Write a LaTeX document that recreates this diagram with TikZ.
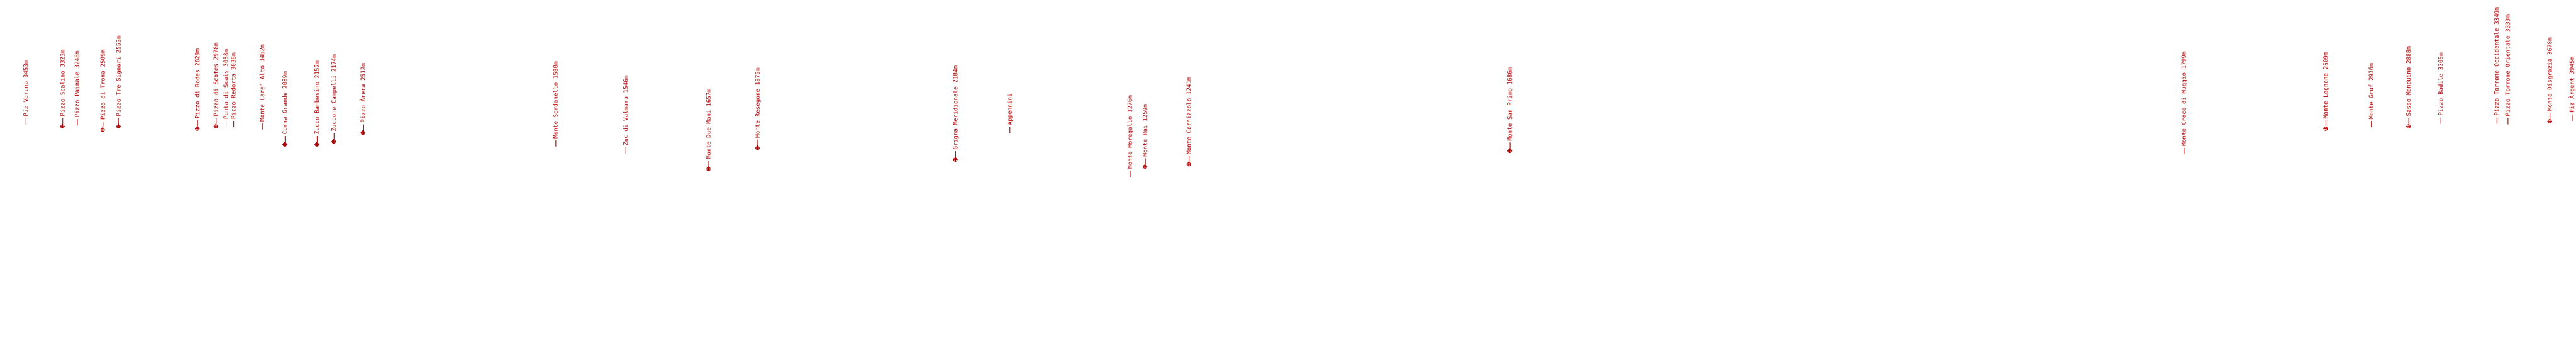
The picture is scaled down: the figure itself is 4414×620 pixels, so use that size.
\documentclass[tikz,border=0pt]{standalone}
\usepackage{fontspec}
\newfontfamily\peakfont{DejaVu Sans Mono}
\definecolor{peakred}{RGB}{175,0,0}
\begin{document}
\begin{tikzpicture}[x=1pt,y=-1pt,
  peaklabel/.style={rotate=90,anchor=base west,inner sep=0pt,outer sep=0pt,
    font=\peakfont\fontsize{10}{12}\selectfont,text=peakred},
  peakdash/.style={draw=peakred,line width=1pt},
  peakmark/.style={draw=peakred,line width=1.1pt}]
\useasboundingbox[fill=white] (0,0) rectangle (4414,620);
% name / x / dash-bottom y / marker / text
\foreach \n/\x/\y/\m/\t in {
  a/44/213/0/Piz Varuna 3453m,
  b/107/213/1/Pizzo Scalino 3323m,
  c/132/215/0/Pizzo Painale 3248m,
  d/176/219/1/Pizzo di Trona 2509m,
  e/203/213/1/Pizzo Tre Signori 2553m,
  f/338/217/1/Pizzo di Rodes 2829m,
  g/370/213/1/Pizzo di Scotes 2978m,
  h/387/218/0/Punta di Scais 3038m,
  i/400/218/0/Pizzo Redorta 3038m,
  j/449/222/0/Monte Care’ Alto 3462m,
  k/488/244/1/Corna Grande 2089m,
  l/543/244/1/Zucco Barbesino 2152m,
  m/572/239/1/Zuccone Campelli 2174m,
  n/622/224/1/Pizzo Àrera 2512m,
  o/952/251/0/Monte Sordanello 1580m,
  p/1072/263/0/Zuc di Valmara 1546m,
  q/1214/286/1/Monte Due Mani 1657m,
  r/1298/250/1/Monte Resegone 1875m,
  s/1637/270/1/Grigna Meridionale 2184m,
  t/1730/228/0/Appennini,
  u/1936/303/0/Monte Moregallo 1276m,
  v/1962/282/1/Monte Rai 1259m,
  w/2037/278/1/Monte Cornizzolo 1241m,
  x/2587/255/1/Monte San Primo 1686m,
  y/3742/264/0/Monte Croce di Muggio 1799m,
  z/3985/217/1/Monte Legnone 2609m,
  aa/4063/218/0/Monte Gruf 2936m,
  ab/4127/213/1/Sasso Manduino 2888m,
  ac/4182/212/0/Pizzo Badile 3305m,
  ad/4278/212/0/Pizzo Torrone Occidentale 3349m,
  ae/4297/213/0/Pizzo Torrone Orientale 3333m,
  af/4369/204/1/Monte Disgrazia 3678m,
  ag/4407/207/0/Piz Àrgent 3945m}
{
  \coordinate (p\n) at (\x,\y);
  \coordinate (q\n) at (\x,\y-11);
  \node[peaklabel] (t\n) at (\x+3.5,\y-13) {\t};
  \draw[peakdash] (p\n) -- (q\n);
  \ifnum\m=1
    \coordinate (c\n) at (\x,\y+3.5);
    \draw[peakmark] (c\n) circle[radius=3];
    \draw[peakmark] ([xshift=-4pt]c\n) -- ([xshift=4pt]c\n);
    \draw[peakmark] ([yshift=-4pt]c\n) -- ([yshift=4pt]c\n);
  \fi
}
\end{tikzpicture}
\end{document}
